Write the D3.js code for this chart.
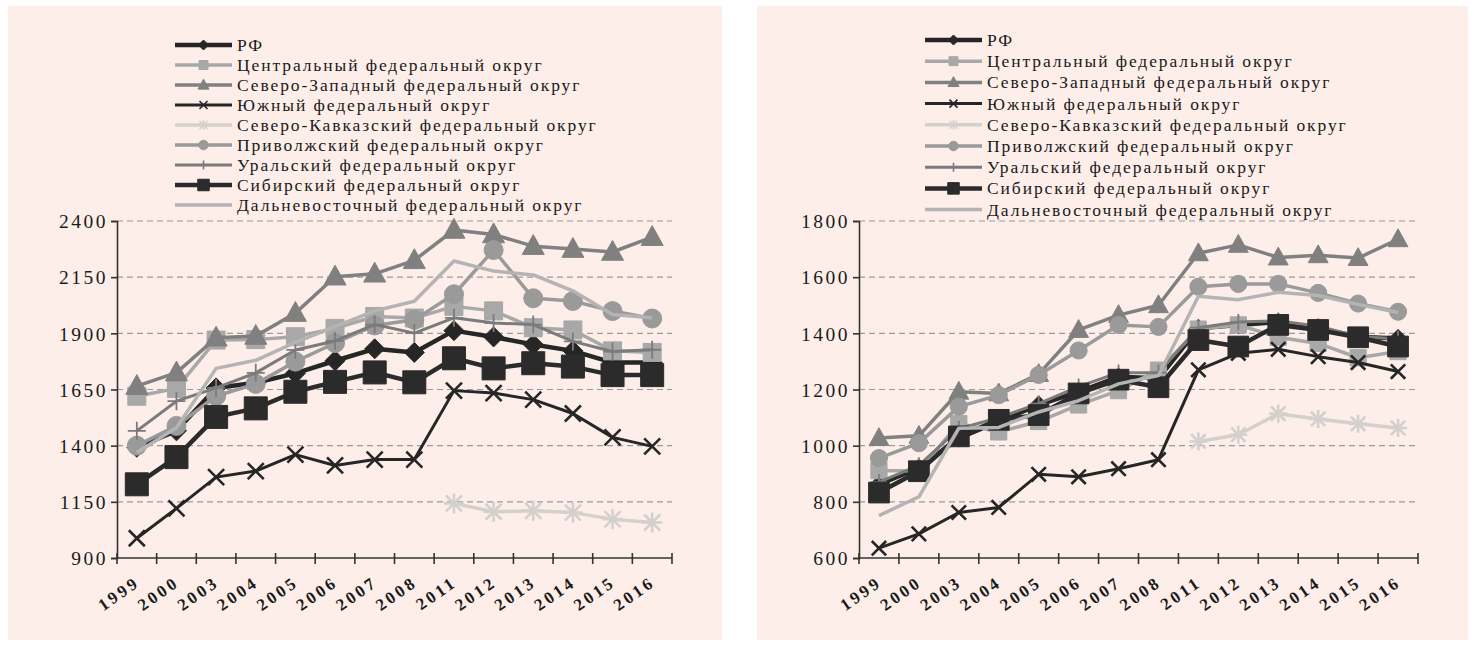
<!DOCTYPE html>
<html><head><meta charset="utf-8">
<script src="https://cdn.jsdelivr.net/npm/d3@7"></script>
<style>body{margin:0;background:#fff}svg{display:block}</style>
</head><body><svg id="c" width="1474" height="646"></svg>
<script>
// ---------- DATA ----------
const years = ['1999','2000','2003','2004','2005','2006','2007','2008','2011','2012','2013','2014','2015','2016'];
const seriesNames = [
  'РФ',
  'Центральный федеральный округ',
  'Северо-Западный федеральный округ',
  'Южный федеральный округ',
  'Северо-Кавказский федеральный округ',
  'Приволжский федеральный округ',
  'Уральский федеральный округ',
  'Сибирский федеральный округ',
  'Дальневосточный федеральный округ'
];
const leftTicks  = [900,1150,1400,1650,1900,2150,2400];
const rightTicks = [600,800,1000,1200,1400,1600,1800];

// left chart
const L_rf      = [1393,1466,1657,1680,1722,1778,1831,1815,1912,1884,1850,1822,1770,1770];
const L_central = [1620,1655,1870,1872,1885,1922,1975,1968,2020,2000,1925,1915,1822,1815];
const L_nw      = [1665,1725,1880,1888,1990,2152,2165,2225,2360,2340,2288,2275,2262,2328];
const L_south   = [988,1121,1260,1287,1360,1312,1338,1338,1645,1634,1605,1543,1437,1397];
const L_nc      = [null,null,null,null,null,null,null,null,1143,1106,1110,1102,1073,1058];
const L_volga   = [1400,1488,1621,1675,1774,1857,1935,1960,2074,2271,2056,2044,1999,1966];
const L_ural    = [1466,1598,1657,1724,1826,1866,1939,1901,1969,1946,1939,1864,1819,1827];
const L_siberia = [1228,1349,1528,1566,1640,1684,1726,1682,1789,1744,1767,1752,1714,1714];
const L_fareast = [1370,1480,1744,1780,1860,1930,2000,2043,2222,2177,2160,2089,1984,1969];

// right chart
const R_rf      = [862,921,1027,1086,1145,1192,1245,1240,1418,1430,1440,1418,1388,1382];
const R_central = [911,911,1079,1049,1086,1145,1196,1269,1415,1430,1386,1364,1313,1335];
const R_nw      = [1027,1035,1192,1186,1255,1412,1465,1500,1685,1715,1670,1678,1668,1735];
const R_south   = [635,686,762,780,898,889,918,950,1270,1329,1343,1317,1296,1264];
const R_nc      = [null,null,null,null,null,null,null,null,1015,1039,1114,1095,1078,1063];
const R_volga   = [956,1009,1139,1180,1252,1339,1430,1423,1566,1576,1576,1544,1506,1477];
const R_ural    = [870,930,1060,1100,1150,1210,1260,1260,1420,1440,1445,1425,1390,1380];
const R_siberia = [833,909,1033,1092,1109,1186,1235,1208,1376,1353,1430,1412,1386,1353];
const R_fareast = [751,818,1062,1065,1120,1160,1220,1250,1532,1520,1546,1535,1503,1474];

// ---------- STYLES ----------
const styles = [
  {color:'#262626', lw:4.5, marker:'diamond',  ms:10},
  {color:'#a8a8a8', lw:3.5, marker:'square',   ms:9},
  {color:'#808080', lw:3.5, marker:'triangle', ms:11},
  {color:'#262626', lw:3,   marker:'x',        ms:8, sw:2.6},
  {color:'#d4d0cd', lw:3.5, marker:'star',     ms:8, sw:2.6},
  {color:'#9a9a9a', lw:3.5, marker:'circle',   ms:9.5},
  {color:'#7b7b7b', lw:3,   marker:'plus',     ms:9, sw:1.8},
  {color:'#2b2b2b', lw:4.5, marker:'square',   ms:11.5},
  {color:'#b4b4b4', lw:3.5, marker:'none',     ms:0}
];
function markerPath(t, s){
  switch(t){
    case 'diamond': return `M0,${-s}L${s},0L0,${s}L${-s},0Z`;
    case 'square': return `M${-s},${-s}h${2*s}v${2*s}h${-2*s}Z`;
    case 'triangle': return `M0,${-s*1.05}L${s},${s*0.75}L${-s},${s*0.75}Z`;
    case 'circle': return `M${s},0A${s},${s} 0 1,1 ${-s},0A${s},${s} 0 1,1 ${s},0Z`;
    case 'x': return `M${-s},${-s}L${s},${s}M${-s},${s}L${s},${-s}`;
    case 'star': return `M${-s},${-s}L${s},${s}M${-s},${s}L${s},${-s}M0,${-s*1.25}L0,${s*1.25}M${-s*1.25},0L${s*1.25},0`;
    case 'plus': return `M${-s},0L${s},0M0,${-s}L0,${s}`;
  }
  return '';
}
const strokeOnly = t => (t==='x'||t==='star'||t==='plus');

const svg = d3.select('#c');
const FONT = '"Liberation Serif","DejaVu Serif",serif';

function drawPanel(cfg){
  const g = svg.append('g');
  g.append('rect').attr('x',cfg.px).attr('y',cfg.py).attr('width',cfg.pw).attr('height',cfg.ph).attr('fill','#fdeee9');

  const x = d3.scaleBand().domain(years).range([cfg.x0,cfg.x1]).paddingInner(0).paddingOuter(0);
  const y = d3.scaleLinear().domain([cfg.ticks[0], cfg.ticks[cfg.ticks.length-1]]).range([cfg.yb, cfg.yt]);
  const cx = d => x(d) + x.bandwidth()/2;

  // grid
  g.append('g').selectAll('line').data(cfg.ticks.slice(1)).join('line')
    .attr('x1',cfg.x0).attr('x2',cfg.x1).attr('y1',d=>y(d)).attr('y2',d=>y(d))
    .attr('stroke','#9a9a9a').attr('stroke-width',1.2).attr('stroke-dasharray','6,4');

  // y axis
  const ya = g.append('g').attr('transform',`translate(${cfg.x0},0)`)
    .call(d3.axisLeft(y).tickValues(cfg.ticks).tickSize(6).tickFormat(d3.format('d')));
  ya.select('.domain').attr('stroke','#333').attr('stroke-width',1.6);
  ya.selectAll('.tick line').attr('stroke','#333').attr('stroke-width',1.6);
  ya.selectAll('.tick text').attr('font-family',FONT).attr('font-size',19.5).attr('fill','#1a1a1a')
    .attr('letter-spacing','2.5px').attr('x',-9).attr('dy','0.35em');

  // x axis
  const xa = g.append('g').attr('transform',`translate(0,${cfg.yb})`);
  xa.append('line').attr('x1',cfg.x0).attr('x2',cfg.x1).attr('stroke','#333').attr('stroke-width',1.6);
  const bounds = years.map(d=>x(d)).concat([cfg.x1]);
  xa.selectAll('line.tk').data(bounds).join('line').attr('class','tk')
    .attr('x1',d=>d).attr('x2',d=>d).attr('y1',-5).attr('y2',6).attr('stroke','#333').attr('stroke-width',1.6);
  xa.selectAll('text').data(years).join('text')
    .attr('transform',d=>`translate(${cx(d)+4},${27}) rotate(-35)`)
    .attr('text-anchor','end').attr('font-family',FONT).attr('font-weight','bold')
    .attr('font-size',17).attr('letter-spacing','3px').attr('fill','#1a1a1a').text(d=>d);

  // series (Excel order: last on top)
  cfg.data.forEach((vals,i)=>{
    const st = styles[i];
    const sc = cfg.mscale;
    const pts = years.map((yr,j)=>({yr, v: vals[j]}));
    const line = d3.line().defined(p=>p.v!=null).x(p=>cx(p.yr)).y(p=>y(p.v));
    g.append('path').datum(pts).attr('d',line).attr('fill','none')
      .attr('stroke',st.color).attr('stroke-width',st.lw).attr('stroke-linejoin','round');
    if(st.marker!=='none'){
      const so = strokeOnly(st.marker);
      g.append('g').selectAll('path').data(pts.filter(p=>p.v!=null)).join('path')
        .attr('transform',p=>`translate(${cx(p.yr)},${y(p.v)})`)
        .attr('d',markerPath(st.marker, st.ms*sc))
        .attr('fill',so?'none':st.color)
        .attr('stroke',st.color).attr('stroke-width',so?st.sw:1);
    }
  });

  // legend
  const lg = g.append('g');
  seriesNames.forEach((nm,i)=>{
    const st = styles[i];
    const ry = cfg.ly + i*cfg.lstep;
    lg.append('line').attr('x1',cfg.lx).attr('x2',cfg.lx+57).attr('y1',ry).attr('y2',ry)
      .attr('stroke',st.color).attr('stroke-width',st.lw);
    if(st.marker!=='none'){
      const so = strokeOnly(st.marker);
      lg.append('path').attr('transform',`translate(${cfg.lx+28.5},${ry})`)
        .attr('d',markerPath(st.marker, st.ms*0.5))
        .attr('fill',so?'none':st.color).attr('stroke',st.color).attr('stroke-width',so?Math.min(st.sw,1.6):1);
    }
    lg.append('text').attr('x',cfg.lx+62).attr('y',ry+6)
      .attr('font-family',FONT).attr('font-size',17.5).attr('letter-spacing','1.9px').attr('fill','#1a1a1a').text(nm);
  });
}

drawPanel({px:8,py:6,pw:714,ph:634, x0:117,x1:672, yt:221,yb:558, ticks:leftTicks,
  data:[L_rf,L_central,L_nw,L_south,L_nc,L_volga,L_ural,L_siberia,L_fareast], mscale:1,
  lx:175, ly:45, lstep:20});
drawPanel({px:757,py:6,pw:711,ph:634, x0:859,x1:1418, yt:221,yb:558, ticks:rightTicks,
  data:[R_rf,R_central,R_nw,R_south,R_nc,R_volga,R_ural,R_siberia,R_fareast], mscale:0.9,
  lx:925, ly:40, lstep:21.2});
</script>
</body></html>
